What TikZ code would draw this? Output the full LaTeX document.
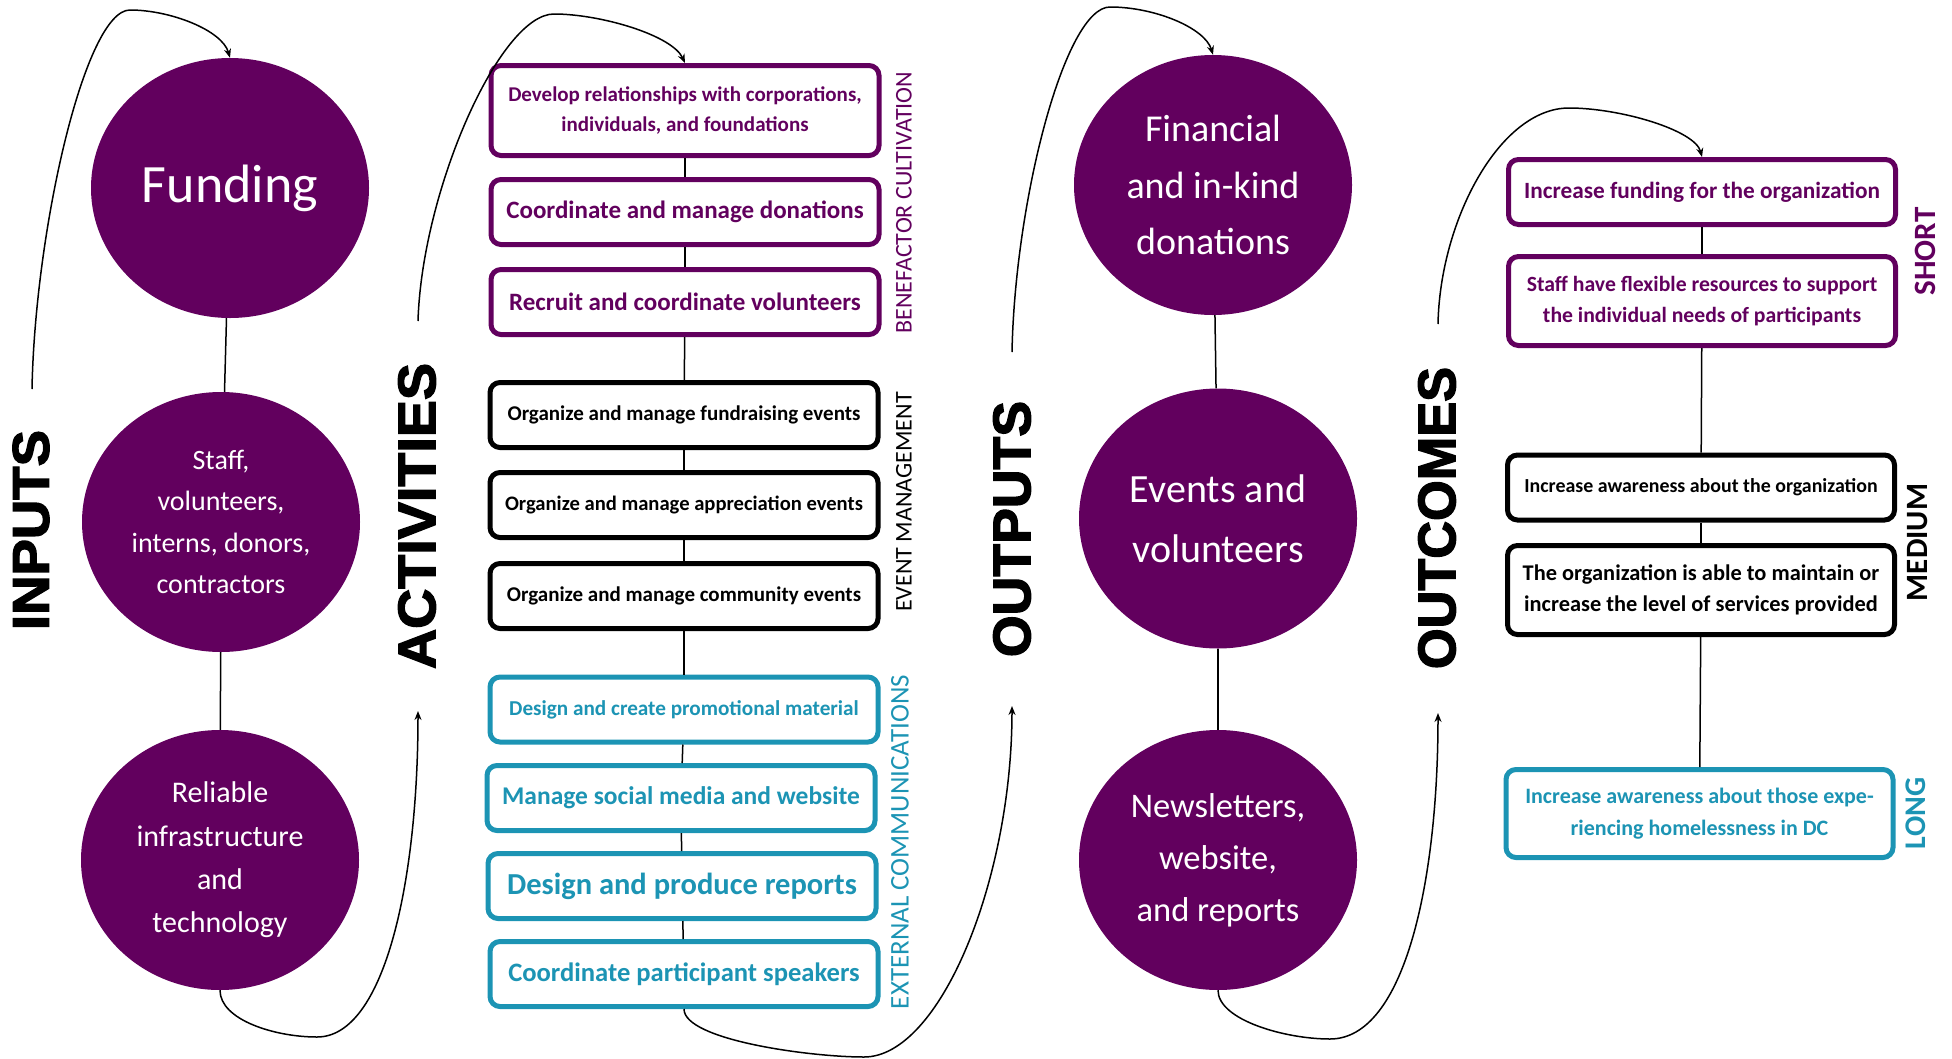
\documentclass[tikz,border=0pt]{standalone}
\usepackage{fontspec}
\usepackage{graphicx}
\setmainfont{Carlito}
\newfontfamily\heavyfont[BoldFeatures={FakeBold=2.5}]{Liberation Sans}
\usetikzlibrary{shapes.geometric,arrows.meta}
\definecolor{cpurple}{RGB}{98,0,94}
\definecolor{cteal}{RGB}{28,148,180}
\newcommand{\fs}[2]{\fontsize{#1}{#2}\selectfont}
\newcommand{\heavylabel}[3]{\resizebox{#2pt}{#3pt}{\heavyfont\bfseries #1}}
\tikzset{
  circ/.style={ellipse, fill=cpurple, inner sep=0pt, minimum width=278pt, minimum height=260pt, text=white, align=center},
  abox/.style={rectangle, rounded corners=10pt, line width=5pt, minimum width=388pt, minimum height=65pt, inner sep=2pt, align=center, fill=white},
  pbox/.style={abox, draw=cpurple, text=cpurple},
  kbox/.style={abox, draw=black, text=black},
  tbox/.style={abox, draw=cteal, text=cteal},
  obox/.style={minimum width=387pt},
  conn/.style={line width=1.5pt, draw=black},
  flow/.style={line width=1.5pt, draw=black, -{Stealth[length=9pt,width=7pt]}},
  side/.style={rotate=90, inner sep=0pt},
  heavy/.style={rotate=90, inner sep=0pt, text=black},
}
\begin{document}
\begin{tikzpicture}[x=1pt,y=-1pt]
\useasboundingbox (0,0) rectangle (1952,1058);

% ---------- INPUTS ----------
\node[heavy] (linputs) at (31,530) {\heavylabel{INPUTS}{200}{36}};
\node[circ, font=\fs{54}{60}] (fund) at (230,188) {Funding};
\node[circ, font=\fs{28}{41.5}] (staff) at (221,522) {Staff,\\volunteers,\\interns, donors,\\contractors};
\node[circ, font=\fs{30}{43.3}] (tech) at (220,860) {Reliable\\infrastructure\\and\\technology};
\draw[conn] (fund) -- (staff);
\draw[conn] (staff) -- (tech);

% ---------- ACTIVITIES ----------
\node[heavy] (lact) at (417,516) {\heavylabel{ACTIVITIES}{306}{37}};
\node[pbox, minimum height=90pt, font=\bfseries\fs{21}{30}] (b1) at (685,110.5) {Develop relationships with corporations,\\individuals, and foundations};
\node[pbox, font=\bfseries\fs{25}{30}] (b2) at (685,212) {Coordinate and manage donations};
\node[pbox, font=\bfseries\fs{25}{30}] (b3) at (685,302) {Recruit and coordinate volunteers};
\node[kbox, font=\bfseries\fs{21}{26}] (b4) at (684,415) {Organize and manage fundraising events};
\node[kbox, font=\bfseries\fs{20.6}{26}] (b5) at (684,505) {Organize and manage appreciation events};
\node[kbox, font=\bfseries\fs{21}{26}] (b6) at (684,596) {Organize and manage community events};
\node[tbox, font=\bfseries\fs{21.2}{26}] (b7) at (684,709.5) {Design and create promotional material};
\node[tbox, font=\bfseries\fs{25.5}{30}] (b8) at (681,798) {Manage social media and website};
\node[tbox, font=\bfseries\fs{30.5}{36}] (b9) at (682,886) {Design and produce reports};
\node[tbox, font=\bfseries\fs{26.6}{32}] (b10) at (684,974) {Coordinate participant speakers};
\foreach \a/\b in {b1/b2,b2/b3,b3/b4,b4/b5,b5/b6,b6/b7,b7/b8,b8/b9,b9/b10}
  \draw[conn] (\a) -- (\b);
\node[side, text=cpurple, font=\fs{24}{28}] (lbene) at (904,202.5) {BENEFACTOR CULTIVATION};
\node[side, text=black, font=\fs{24}{28}] (levent) at (904,502) {EVENT MANAGEMENT};
\node[side, text=cteal, font=\fs{27}{30}] (lext) at (900,842) {EXTERNAL COMMUNICATIONS};

% ---------- OUTPUTS ----------
\node[heavy] (lout) at (1012,529) {\heavylabel{OUTPUTS}{256}{37}};
\node[circ, font=\fs{38}{56.5}] (fin) at (1213,185) {Financial\\and in-kind\\donations};
\node[circ, font=\fs{40}{60}] (ev) at (1218,518.5) {Events and\\volunteers};
\node[circ, font=\fs{34.5}{52}] (news) at (1218,860) {Newsletters,\\website,\\and reports};
\draw[conn] (fin) -- (ev);
\draw[conn] (ev) -- (news);

% ---------- OUTCOMES ----------
\node[heavy] (loutc) at (1437,518) {\heavylabel{OUTCOMES}{302}{37}};
\node[pbox, obox, font=\bfseries\fs{23.3}{28}] (o1) at (1702,192) {Increase funding for the organization};
\node[pbox, obox, minimum height=89pt, font=\bfseries\fs{21.7}{31}] (o2) at (1702,301) {Staff have flexible resources to support\\the individual needs of participants};
\node[kbox, obox, font=\bfseries\fs{19.9}{26}] (o3) at (1701,487.5) {Increase awareness about the organization};
\node[kbox, obox, minimum height=89pt, font=\bfseries\fs{22.4}{31}] (o4) at (1701,590) {The organization is able to maintain or\\increase the level of services provided};
\node[tbox, obox, minimum height=88pt, font=\bfseries\fs{22}{32}] (o5) at (1699.5,813.5) {Increase awareness about those expe-\\riencing homelessness in DC};
\foreach \a/\b in {o1/o2,o2/o3,o3/o4,o4/o5}
  \draw[conn] (\a) -- (\b);
\node[side, text=cpurple, font=\bfseries\fs{31}{34}] (lshort) at (1925,251.5) {SHORT};
\node[side, text=black, font=\bfseries\fs{31}{34}] (lmed) at (1918,542.5) {MEDIUM};
\node[side, text=cteal, font=\bfseries\fs{30}{34}] (llong) at (1916,813.5) {LONG};

% ---------- flow arrows ----------
\coordinate (s1) at (32,389);
\coordinate (s2) at (418,321);
\coordinate (s3) at (1012,352);
\coordinate (s4) at (1438,324);
\coordinate (e1) at (418,711);
\coordinate (e2) at (1012,706);
\coordinate (e3) at (1438,713);

\draw[flow] (s1) .. controls (35,230) and (85,10) .. (130,10) .. controls (170,10) and (222,30) .. (fund.north);
\draw[flow] (s2) .. controls (422,190) and (500,14) .. (554,14) .. controls (600,14) and (672,35) .. (b1.north);
\draw[flow] (s3) .. controls (1015,200) and (1065,7) .. (1110,7) .. controls (1155,7) and (1205,28) .. (fin.north);
\draw[flow] (s4) .. controls (1440,220) and (1500,108) .. (1569,108) .. controls (1620,108) and (1695,130) .. (o1.north);

\draw[flow] (tech.south) .. controls (220,1020) and (275,1037) .. (317,1037) .. controls (385,1037) and (418,880) .. (e1);
\draw[flow] (b10.south) .. controls (684,1040) and (810,1057) .. (864,1057) .. controls (940,1057) and (1012,880) .. (e2);
\draw[flow] (news.south) .. controls (1218,1020) and (1285,1039) .. (1330,1039) .. controls (1405,1039) and (1438,880) .. (e3);
\end{tikzpicture}
\end{document}
